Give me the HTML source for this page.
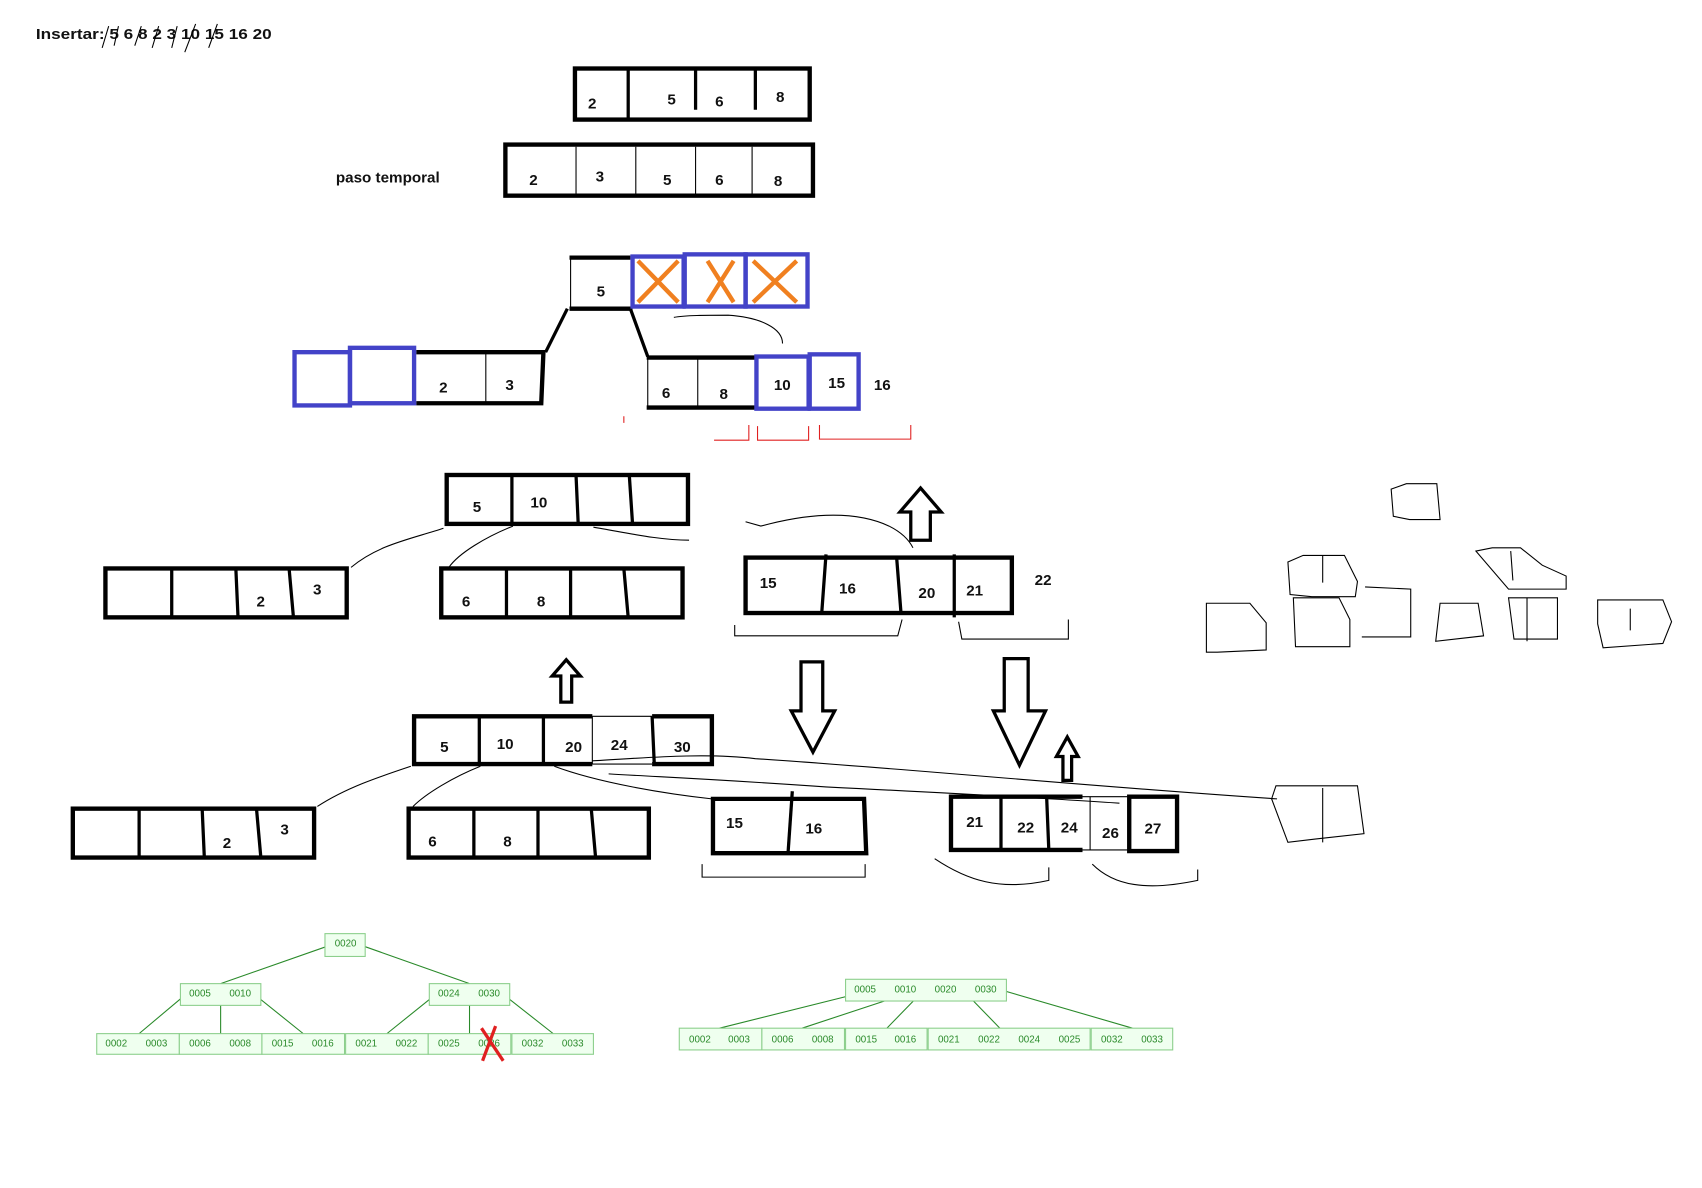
<!DOCTYPE html>
<html><head><meta charset="utf-8"><style>
html,body{margin:0;padding:0;background:#fff;}
svg{display:block;}
text{font-family:"Liberation Sans",sans-serif;font-weight:bold;font-size:14px;fill:#111;}
.g text{font-weight:normal;font-size:9px;fill:#2a8a2a;}
</style></head><body>
<svg width="1702" height="1188" viewBox="0 0 1566 1093" xmlns="http://www.w3.org/2000/svg">
<rect width="1566" height="1093" fill="#fff"/>
<text x="33" y="36" textLength="217" lengthAdjust="spacingAndGlyphs">Insertar: 5 6  8  2  3 10 15 16 20</text>
<g stroke="#000" stroke-width="1" fill="none">
<path d="M94 44l6-20M105 42l4-18M124 42l6-18M140 44l6-20M158 44l5-20M170 48l10-26M192 44l8-22"/>
</g>
<!-- box1 -->
<g fill="none" stroke="#000">
<rect x="529" y="63" width="216" height="47" stroke-width="4"/>
<path d="M578 63v47M640 63v38M695 63v38" stroke-width="3"/>
<rect x="465" y="133" width="283" height="47" stroke-width="4"/>
<path d="M530 135v44M585 135v44M640 135v44M692 135v44" stroke-width="1"/>
</g>
<text x="541" y="100">2</text><text x="614" y="96">5</text><text x="658" y="98">6</text><text x="714" y="94">8</text>
<text x="309" y="168">paso temporal</text>
<text x="487" y="170">2</text><text x="548" y="167">3</text><text x="610" y="170">5</text><text x="658" y="170">6</text><text x="712" y="171">8</text>
<!-- step 3 -->
<g fill="none" stroke="#000">
<path d="M524 237h56M524 284h58" stroke-width="4"/>
<path d="M525 237v47" stroke-width="1"/>
<path d="M522 284l-20 40M580 284l16 44" stroke-width="3"/>
<path d="M383 324h117l-2 47H383M595 329h100M595 375h100" stroke-width="4"/>
<path d="M447 324v47M642 329v46M596 329v46" stroke-width="1"/>
<path d="M720 316c0-14-20-24-50-26-20 0-40 0-50 2" stroke-width="1"/>
</g>
<g fill="none" stroke="#4343c8" stroke-width="4">
<rect x="582" y="236" width="47" height="46"/><rect x="630" y="234" width="56" height="48"/><rect x="686" y="234" width="57" height="48"/>
<rect x="271" y="324" width="51" height="49"/><rect x="322" y="320" width="59" height="51"/>
<rect x="696" y="328" width="48" height="48"/><rect x="745" y="326" width="45" height="50"/>
</g>
<g stroke="#f08020" stroke-width="4" fill="none">
<path d="M587 240l37 38M624 240l-37 38M651 240l24 38M675 240l-24 38M693 240l40 38M733 240l-40 38"/>
</g>
<text x="549" y="273">5</text><text x="404" y="361">2</text><text x="465" y="359">3</text>
<text x="609" y="366">6</text><text x="662" y="367">8</text><text x="712" y="359">10</text><text x="762" y="357">15</text><text x="804" y="359">16</text>
<g stroke="#e02020" stroke-width="1" fill="none"><path d="M657 405h32v-14M697 392v13h47v-13M754 391v13h84v-13M574 383v6"/></g>
<!-- row 2 -->
<g fill="none" stroke="#000">
<rect x="411" y="437" width="222" height="45" stroke-width="4"/>
<path d="M471 437v45M530 437l2 45M579 437l3 45" stroke-width="3"/>
<rect x="97" y="523" width="222" height="45" stroke-width="4"/>
<path d="M158 523v45M217 523l2 45M266 523l4 45" stroke-width="3"/>
<rect x="406" y="523" width="222" height="45" stroke-width="4"/>
<path d="M466 523v45M525 523v45M574 523l4 45" stroke-width="3"/>
<rect x="686" y="513" width="245" height="51" stroke-width="4"/>
<path d="M760 510l-4 55M825 513l4 51M878 510v58" stroke-width="3"/>
<path d="M408 486c-30 10-60 15-85 36M472 484c-25 10-50 25-59 38M546 485c30 5 60 12 88 12" stroke-width="1"/>
<path d="M838 497h18v-26h10l-19-22-19 22h10z" stroke-width="3"/>
<path d="M686 480l14 4 8-2c40-10 80-12 110 2 10 5 18 12 22 20" stroke-width="1"/>
<path d="M676 575v10h60 90l4-15M882 572l3 16h98v-18" stroke-width="1"/>
</g>
<text x="435" y="471">5</text><text x="488" y="467">10</text>
<text x="236" y="558">2</text><text x="288" y="547">3</text><text x="425" y="558">6</text><text x="494" y="558">8</text>
<text x="699" y="541">15</text><text x="772" y="546">16</text><text x="845" y="550">20</text><text x="889" y="548">21</text><text x="952" y="538">22</text>
<!-- scribbles right -->
<g fill="none" stroke="#000" stroke-width="1">
<path d="M1280 450l14-5h28l3 33h-28l-15-3z"/>
<path d="M1185 517l14-6h38l12 24-2 14h-40l-20-2zM1217 511v25"/>
<path d="M1358 507l15-3h26l20 16 22 10v12l-35 0h-18zM1390 507l2 27"/>
<path d="M1110 555h40l15 18v25l-45 2h-10zM1110 555v45"/>
<path d="M1190 550h42l10 20v25h-50zM1256 540l42 2v44h-45"/>
<path d="M1325 555h35l5 30-44 5zM1388 550h45v38h-40z M1405 550v40"/>
<path d="M1470 552h60l8 20-8 20-55 4-5-22z M1500 560v20"/>
</g>
<!-- row 3 -->
<g fill="none" stroke="#000">
<path d="M545 659h-164v44h164M600 659h55v44h-55" stroke-width="4"/>
<path d="M441 659v44M500 659v44M600 659l2 44" stroke-width="3"/>
<path d="M545 659h55M545 703h55M545 659v44" stroke-width="1"/>
<path d="M516 646h10v-24h8l-13-15-13 15h8z" stroke-width="3"/>
<path d="M737 609h20v45h11l-20 38-20-38h9z" stroke-width="3"/>
<path d="M924 606h22v48h16l-24 50-24-50h10z" stroke-width="3"/>
<path d="M978 718h8v-22h6l-10-18-10 18h6z" stroke-width="3"/>
<rect x="67" y="744" width="222" height="45" stroke-width="4"/>
<path d="M128 744v45M186 744l2 45M236 744l4 45" stroke-width="3"/>
<rect x="376" y="744" width="221" height="45" stroke-width="4"/>
<path d="M436 744v45M495 744v45M544 744l4 45" stroke-width="3"/>
<path d="M656 735h139l2 50H656z" stroke-width="4"/>
<path d="M729 728l-4 58" stroke-width="3"/>
<path d="M996 733h-121v49h121M1039 733h44v50h-44z" stroke-width="4"/>
<path d="M921 733v49M963 733l2 49" stroke-width="3"/>
<path d="M996 733h43M996 782h43M1003 733v49" stroke-width="1"/>
<path d="M378 705c-30 10-60 20-86 37M442 705c-25 10-50 25-62 37M510 705c40 15 100 25 145 30M545 700c40-2 100-8 150-2 150 10 300 25 480 37" stroke-width="1"/>
<path d="M560 712c50 3 100 5 200 12 100 5 200 10 270 15" stroke-width="1"/>
<path d="M1170 735l4-12h75l6 44-45 5-25 3zM1217 725v50"/>
<path d="M646 795v12h150v-12M860 790c30 20 60 30 105 20v-12M1005 795c20 20 50 25 97 15v-10" stroke-width="1"/>
</g>
<text x="405" y="692">5</text><text x="457" y="689">10</text><text x="520" y="692">20</text><text x="562" y="690">24</text><text x="620" y="692">30</text>
<text x="205" y="780">2</text><text x="258" y="768">3</text><text x="394" y="779">6</text><text x="463" y="779">8</text>
<text x="668" y="762">15</text><text x="741" y="767">16</text>
<text x="889" y="761">21</text><text x="936" y="766">22</text><text x="976" y="766">24</text><text x="1014" y="771">26</text><text x="1053" y="767">27</text>
<!-- green trees -->
<g class="g">
<g stroke="#2a8a2a" fill="none" stroke-width="1">
<path d="M300 871L203 905M336 871L432 905M172 914L128 951M203 914v37M233 914L279 951M402 914L356 951M432 914v37M462 914L509 951"/>
<path d="M810 909L662 946M850 909L738 946M852 909L816 946M884 909L920 946M915 909L1042 946"/>
</g>
<g fill="#efffef" stroke="#8ccf8c" stroke-width="1">
<rect x="299" y="859" width="37" height="21"/>
<rect x="166" y="905" width="74" height="20"/><rect x="395" y="905" width="74" height="20"/>
<rect x="89" y="951" width="76" height="19"/><rect x="165" y="951" width="76" height="19"/><rect x="241" y="951" width="76" height="19"/><rect x="318" y="951" width="76" height="19"/><rect x="394" y="951" width="76" height="19"/><rect x="471" y="951" width="75" height="19"/>
<rect x="778" y="901" width="148" height="20"/>
<rect x="625" y="946" width="76" height="20"/><rect x="701" y="946" width="76" height="20"/><rect x="778" y="946" width="75" height="20"/><rect x="854" y="946" width="149" height="20"/><rect x="1004" y="946" width="75" height="20"/>
</g>
<text x="308" y="871">0020</text>
<text x="174" y="917">0005</text><text x="211" y="917">0010</text><text x="403" y="917">0024</text><text x="440" y="917">0030</text>
<text x="97" y="963">0002</text><text x="134" y="963">0003</text><text x="174" y="963">0006</text><text x="211" y="963">0008</text><text x="250" y="963">0015</text><text x="287" y="963">0016</text><text x="327" y="963">0021</text><text x="364" y="963">0022</text><text x="403" y="963">0025</text><text x="440" y="963">0026</text><text x="480" y="963">0032</text><text x="517" y="963">0033</text>
<text x="786" y="913">0005</text><text x="823" y="913">0010</text><text x="860" y="913">0020</text><text x="897" y="913">0030</text>
<text x="634" y="959">0002</text><text x="670" y="959">0003</text><text x="710" y="959">0006</text><text x="747" y="959">0008</text><text x="787" y="959">0015</text><text x="823" y="959">0016</text><text x="863" y="959">0021</text><text x="900" y="959">0022</text><text x="937" y="959">0024</text><text x="974" y="959">0025</text><text x="1013" y="959">0032</text><text x="1050" y="959">0033</text>
</g>
<path d="M443 946l20 30M456 944l-12 32" stroke="#e02020" stroke-width="3" fill="none"/>
</svg>
</body></html>
